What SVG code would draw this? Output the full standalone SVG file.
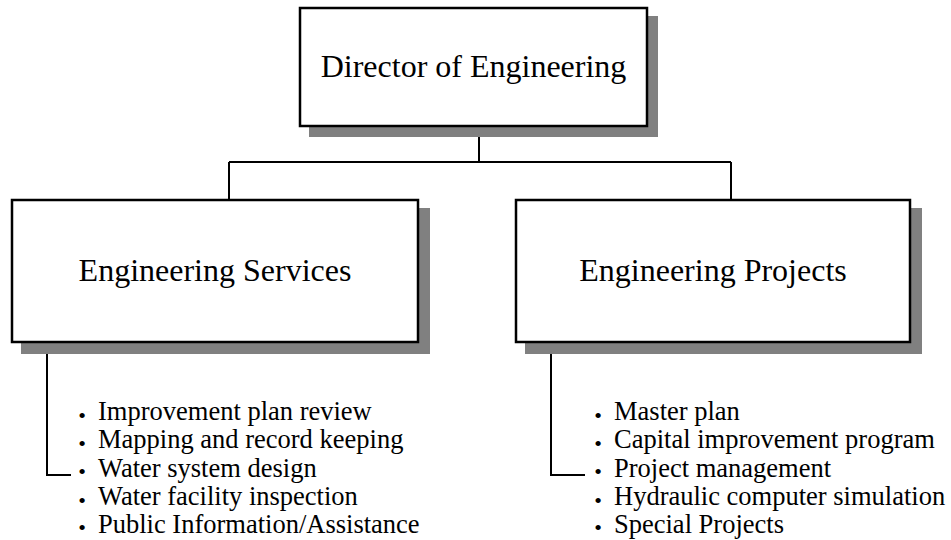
<svg xmlns="http://www.w3.org/2000/svg" width="951" height="540" viewBox="0 0 951 540">
<style>
.shadow{fill:#808080;stroke:none}
.box{fill:#ffffff;stroke:#000000;stroke-width:2.5}
.title{font-family:"Liberation Serif","Times New Roman",serif;font-size:32px;fill:#000;text-anchor:middle}
.item{font-family:"Liberation Serif","Times New Roman",serif;font-size:26.5px;fill:#000}
.bul{font-family:"Liberation Serif","Times New Roman",serif;font-size:22px;fill:#000;text-anchor:middle}
.conn{fill:none;stroke:#000;stroke-width:2}
</style>
<rect width="951" height="540" fill="#ffffff"/>
<g id="connectors">
<path class="conn" d="M479,126 V162 M229,162 H731 M229,162 V200 M731,162 V200"/>
<path class="conn" d="M47,342 V475 H71"/>
<path class="conn" d="M551,342 V475 H585"/>
</g>
<g id="director">
<rect class="shadow" x="309" y="16" width="349" height="121"/>
<rect class="box" x="300" y="8" width="347" height="118"/>
<text class="title" x="473.5" y="77">Director of Engineering</text>
</g>
<g id="services">
<rect class="shadow" x="21" y="208" width="409" height="146"/>
<rect class="box" x="12" y="200" width="406" height="142"/>
<text class="title" x="215" y="281">Engineering Services</text>
</g>
<g id="projects">
<rect class="shadow" x="525" y="208" width="397" height="146"/>
<rect class="box" x="516" y="200" width="394" height="142"/>
<text class="title" x="713" y="281">Engineering Projects</text>
</g>
<g id="services-list">
<text class="bul" x="82" y="422.5">•</text><text class="item" x="98" y="420">Improvement plan review</text>
<text class="bul" x="82" y="450.5">•</text><text class="item" x="98" y="448">Mapping and record keeping</text>
<text class="bul" x="82" y="479">•</text><text class="item" x="98" y="476.5">Water system design</text>
<text class="bul" x="82" y="507.5">•</text><text class="item" x="98" y="505">Water facility inspection</text>
<text class="bul" x="82" y="535">•</text><text class="item" x="98" y="533">Public Information/Assistance</text>
</g>
<g id="projects-list">
<text class="bul" x="598" y="422.5">•</text><text class="item" x="614" y="420">Master plan</text>
<text class="bul" x="598" y="450.5">•</text><text class="item" x="614" y="448">Capital improvement program</text>
<text class="bul" x="598" y="479">•</text><text class="item" x="614" y="476.5">Project management</text>
<text class="bul" x="598" y="507.5">•</text><text class="item" x="614" y="505">Hydraulic computer simulation</text>
<text class="bul" x="598" y="535">•</text><text class="item" x="614" y="533">Special Projects</text>
</g>
</svg>
